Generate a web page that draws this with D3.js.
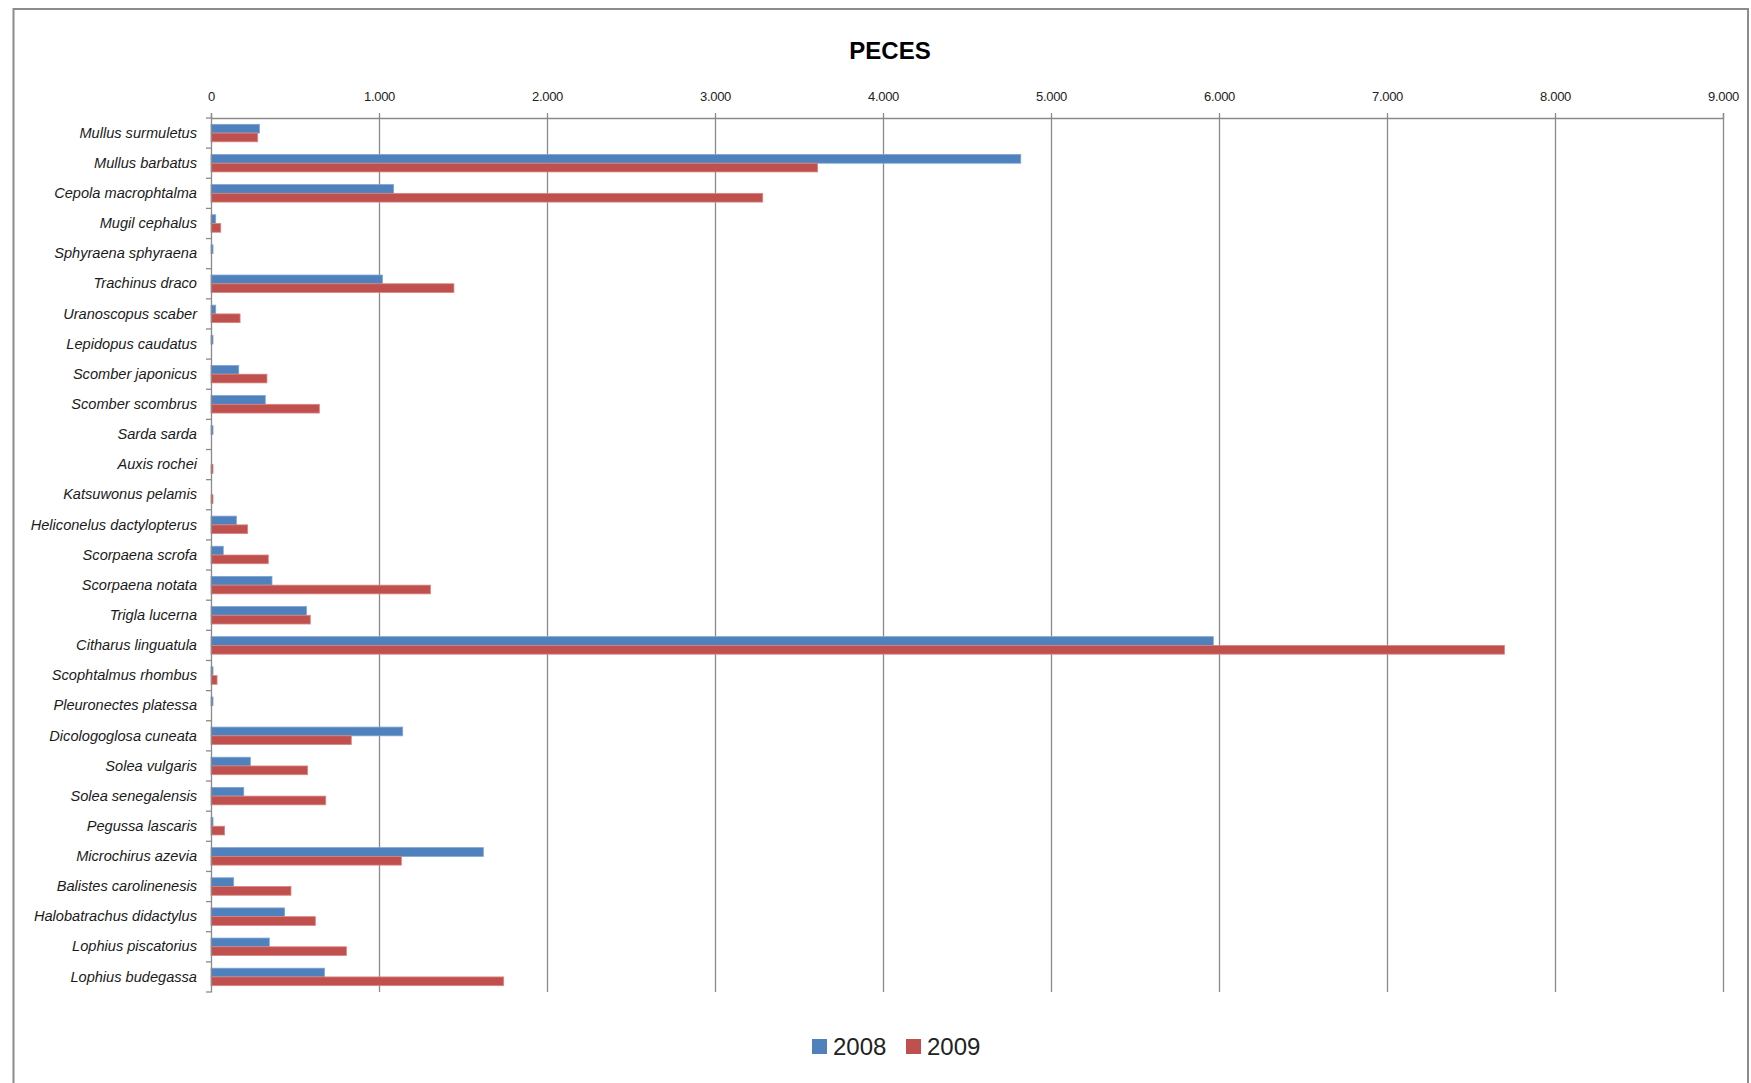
<!DOCTYPE html>
<html>
<head>
<meta charset="utf-8">
<script src="https://cdn.jsdelivr.net/npm/d3@7"></script>
<style>
  html, body { margin: 0; padding: 0; background: #fff; }
  svg { display: block; }
</style>
</head>
<body>
<svg id="chart" width="1751" height="1083"></svg>
<script>
const categories = [
  "Mullus surmuletus", "Mullus barbatus", "Cepola macrophtalma", "Mugil cephalus",
  "Sphyraena sphyraena", "Trachinus draco", "Uranoscopus scaber", "Lepidopus caudatus",
  "Scomber japonicus", "Scomber scombrus", "Sarda sarda", "Auxis rochei",
  "Katsuwonus pelamis", "Heliconelus dactylopterus", "Scorpaena scrofa", "Scorpaena notata",
  "Trigla lucerna", "Citharus linguatula", "Scophtalmus rhombus", "Pleuronectes platessa",
  "Dicologoglosa cuneata", "Solea vulgaris", "Solea senegalensis", "Pegussa lascaris",
  "Microchirus azevia", "Balistes carolinenesis", "Halobatrachus didactylus",
  "Lophius piscatorius", "Lophius budegassa"
];
const values2008 = [
  288, 4820, 1087, 28, 12, 1020, 28, 12, 165, 323, 12, 0, 0, 151, 73, 363,
  568, 5966, 12, 12, 1141, 234, 195, 12, 1621, 135, 438, 347, 675
];
const values2009 = [
  278, 3611, 3284, 58, 0, 1446, 173, 0, 333, 645, 0, 12, 12, 218, 341, 1306,
  591, 7699, 36, 0, 835, 575, 683, 81, 1133, 476, 621, 806, 1742
];
const seriesNames = ["2008", "2009"];
const seriesColors = ["#4F81BD", "#C0504D"];
const seriesStrokes = ["#7FA3D3", "#D98583"];
const tickValues = [0, 1000, 2000, 3000, 4000, 5000, 6000, 7000, 8000, 9000];
const titleText = "PECES";

const svg = d3.select("#chart");
const plot = { left: 211, right: 1723, top: 118, bottom: 992 };

// outer chart border
svg.append("rect")
  .attr("x", 13.5).attr("y", 9).attr("width", 1734.5).attr("height", 1100)
  .attr("fill", "none").attr("stroke", "#8c8c8c").attr("stroke-width", 2);

// title
svg.append("text")
  .attr("x", 890).attr("y", 59)
  .attr("text-anchor", "middle")
  .attr("font-family", "'Liberation Sans', Arial, sans-serif")
  .attr("font-weight", "bold").attr("font-size", 24).attr("fill", "#000")
  .text(titleText);

const x = d3.scaleLinear().domain([0, 9000]).range([plot.left, plot.right]);
const y = d3.scaleBand().domain(categories).range([plot.top, plot.bottom])
  .paddingInner(0.42).paddingOuter(0.21);
const ySub = d3.scaleBand().domain(seriesNames).range([0, y.bandwidth()]);

// gridlines
svg.append("g").selectAll("line")
  .data(tickValues.filter(d => d > 0))
  .join("line")
  .attr("x1", d => x(d) + 0.5).attr("x2", d => x(d) + 0.5)
  .attr("y1", plot.top).attr("y2", plot.bottom)
  .attr("stroke", "#8a8a8a").attr("stroke-width", 1.3);

// bars
const data = categories.map((c, i) => ({ cat: c, vals: [values2008[i], values2009[i]] }));
const groups = svg.append("g").selectAll("g")
  .data(data).join("g")
  .attr("transform", d => `translate(0,${y(d.cat)})`);
groups.selectAll("rect")
  .data(d => d.vals.map((v, k) => ({ v, k })).filter(e => e.v > 0))
  .join("rect")
  .attr("x", x(0))
  .attr("y", e => ySub(seriesNames[e.k]))
  .attr("width", e => x(e.v) - x(0))
  .attr("height", ySub.bandwidth())
  .attr("fill", e => seriesColors[e.k])
  .attr("stroke", e => seriesStrokes[e.k])
  .attr("stroke-width", 0.8);

// top axis
const xAxis = d3.axisTop(x).tickValues(tickValues).tickSize(5).tickPadding(12)
  .tickFormat(d => d3.format(",")(d).replace(/,/g, "."));
const gx = svg.append("g").attr("transform", `translate(0,${plot.top})`).call(xAxis);
gx.select(".domain").attr("stroke", "#8a8a8a").attr("stroke-width", 1.3);
gx.selectAll(".tick line").attr("stroke", "#8a8a8a").attr("stroke-width", 1.3);
gx.selectAll(".tick text")
  .attr("font-family", "'Liberation Sans', Arial, sans-serif")
  .attr("font-size", 13).attr("fill", "#222").attr("letter-spacing", -0.3);

// left axis
const yAxis = d3.axisLeft(y).tickSize(0).tickPadding(14);
const gy = svg.append("g").attr("transform", `translate(${plot.left},0)`).call(yAxis);
gy.select(".domain").attr("stroke", "#8a8a8a").attr("stroke-width", 1.3);
gy.selectAll(".tick text")
  .attr("font-family", "'Liberation Sans', Arial, sans-serif")
  .attr("font-style", "italic")
  .attr("font-size", 14.6).attr("fill", "#1a1a1a");

// left axis tick marks at band boundaries
const boundaries = categories.map(c => y(c) - y.step() * y.paddingInner() / 2)
  .concat([plot.bottom]);
svg.append("g").selectAll("line").data(boundaries).join("line")
  .attr("x1", plot.left - 5).attr("x2", plot.left)
  .attr("y1", d => d).attr("y2", d => d)
  .attr("stroke", "#8a8a8a").attr("stroke-width", 1.3);

// legend
const legend = svg.append("g");
const legendX = [812, 906];
seriesNames.forEach((name, k) => {
  legend.append("rect")
    .attr("x", legendX[k]).attr("y", 1039).attr("width", 15).attr("height", 15)
    .attr("fill", seriesColors[k]);
  legend.append("text")
    .attr("x", legendX[k] + 21).attr("y", 1055)
    .attr("font-family", "'Liberation Sans', Arial, sans-serif")
    .attr("font-size", 24).attr("fill", "#222")
    .text(name);
});
</script>
</body>
</html>
